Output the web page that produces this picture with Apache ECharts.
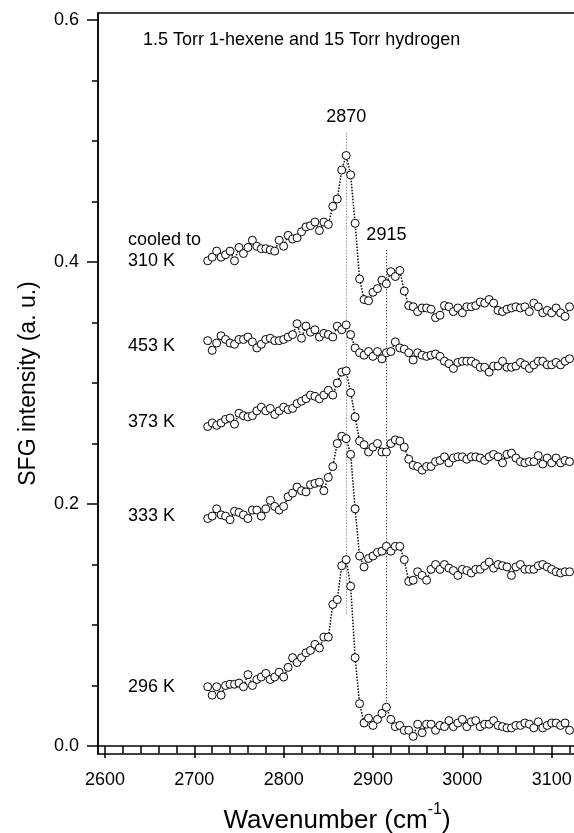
<!DOCTYPE html>
<html>
<head>
<meta charset="utf-8">
<script src="https://cdn.jsdelivr.net/npm/echarts@6/dist/echarts.min.js"></script>
<style>
  html, body { margin: 0; padding: 0; background: #fff; }
  #chart { width: 574px; height: 833px; }
</style>
</head>
<body>
<div id="chart"></div>
<script>
// wavenumber grid (cm-1)
var wavenumber = [2715, 2720, 2725, 2730, 2735, 2740, 2745, 2750, 2755, 2760,
    2765, 2770, 2775, 2780, 2785, 2790, 2795, 2800, 2805, 2810,
    2815, 2820, 2825, 2830, 2835, 2840, 2845, 2850, 2855, 2860,
    2865, 2870, 2875, 2880, 2885, 2890, 2895, 2900, 2905, 2910,
    2915, 2920, 2925, 2930, 2935, 2940, 2945, 2950, 2955, 2960,
    2965, 2970, 2975, 2980, 2985, 2990, 2995, 3000, 3005, 3010,
    3015, 3020, 3025, 3030, 3035, 3040, 3045, 3050, 3055, 3060,
    3065, 3070, 3075, 3080, 3085, 3090, 3095, 3100, 3105, 3110,
    3115, 3120]

// SFG intensity of each spectrum (offset as in the figure)
var s310 = [0.401, 0.404, 0.409, 0.404, 0.406, 0.409, 0.401, 0.412, 0.407, 0.412,
    0.418, 0.413, 0.411, 0.411, 0.410, 0.409, 0.418, 0.413, 0.422, 0.419,
    0.420, 0.425, 0.429, 0.430, 0.433, 0.426, 0.433, 0.431, 0.446, 0.452,
    0.476, 0.488, 0.472, 0.432, 0.386, 0.369, 0.368, 0.375, 0.378, 0.385,
    0.382, 0.392, 0.388, 0.393, 0.376, 0.364, 0.363, 0.359, 0.362, 0.362,
    0.361, 0.354, 0.356, 0.364, 0.363, 0.359, 0.362, 0.358, 0.363, 0.363,
    0.364, 0.367, 0.366, 0.369, 0.366, 0.360, 0.359, 0.361, 0.362, 0.363,
    0.362, 0.363, 0.359, 0.366, 0.363, 0.358, 0.360, 0.358, 0.362, 0.358,
    0.355, 0.363]
var s453 = [0.335, 0.327, 0.333, 0.339, 0.336, 0.333, 0.332, 0.336, 0.336, 0.338,
    0.334, 0.329, 0.332, 0.336, 0.337, 0.335, 0.335, 0.336, 0.338, 0.340,
    0.349, 0.337, 0.347, 0.342, 0.344, 0.338, 0.341, 0.340, 0.338, 0.347,
    0.344, 0.348, 0.340, 0.329, 0.325, 0.323, 0.326, 0.322, 0.326, 0.320,
    0.325, 0.326, 0.334, 0.329, 0.328, 0.325, 0.319, 0.325, 0.323, 0.322,
    0.323, 0.324, 0.322, 0.318, 0.316, 0.312, 0.317, 0.318, 0.318, 0.318,
    0.316, 0.313, 0.313, 0.309, 0.314, 0.314, 0.318, 0.313, 0.313, 0.314,
    0.317, 0.315, 0.312, 0.315, 0.318, 0.318, 0.315, 0.315, 0.317, 0.315,
    0.318, 0.320]
var s373 = [0.264, 0.267, 0.265, 0.267, 0.270, 0.271, 0.266, 0.275, 0.273, 0.272,
    0.273, 0.277, 0.280, 0.277, 0.279, 0.274, 0.277, 0.280, 0.278, 0.279,
    0.283, 0.285, 0.287, 0.290, 0.289, 0.287, 0.290, 0.294, 0.290, 0.300,
    0.309, 0.310, 0.292, 0.272, 0.252, 0.249, 0.243, 0.247, 0.250, 0.243,
    0.243, 0.250, 0.253, 0.252, 0.247, 0.237, 0.232, 0.231, 0.228, 0.231,
    0.231, 0.235, 0.236, 0.239, 0.234, 0.238, 0.239, 0.239, 0.237, 0.239,
    0.239, 0.238, 0.236, 0.239, 0.241, 0.239, 0.234, 0.241, 0.242, 0.238,
    0.235, 0.234, 0.235, 0.235, 0.240, 0.233, 0.238, 0.234, 0.238, 0.234,
    0.236, 0.235]
var s333 = [0.188, 0.190, 0.196, 0.191, 0.190, 0.187, 0.194, 0.193, 0.191, 0.188,
    0.195, 0.195, 0.190, 0.196, 0.203, 0.198, 0.195, 0.198, 0.206, 0.209,
    0.214, 0.211, 0.210, 0.216, 0.217, 0.218, 0.211, 0.222, 0.231, 0.250,
    0.256, 0.254, 0.241, 0.196, 0.157, 0.148, 0.155, 0.157, 0.160, 0.161,
    0.165, 0.161, 0.165, 0.165, 0.154, 0.136, 0.137, 0.144, 0.141, 0.137,
    0.146, 0.150, 0.146, 0.150, 0.147, 0.145, 0.141, 0.146, 0.145, 0.143,
    0.146, 0.146, 0.149, 0.152, 0.147, 0.150, 0.149, 0.148, 0.141, 0.148,
    0.150, 0.146, 0.146, 0.146, 0.149, 0.150, 0.148, 0.146, 0.144, 0.143,
    0.144, 0.144]
var s296 = [0.049, 0.042, 0.049, 0.042, 0.050, 0.051, 0.051, 0.052, 0.049, 0.059,
    0.050, 0.055, 0.057, 0.060, 0.055, 0.057, 0.061, 0.057, 0.065, 0.073,
    0.069, 0.073, 0.077, 0.079, 0.084, 0.081, 0.090, 0.090, 0.117, 0.121,
    0.149, 0.154, 0.132, 0.073, 0.035, 0.019, 0.023, 0.017, 0.022, 0.027,
    0.032, 0.022, 0.016, 0.017, 0.013, 0.013, 0.008, 0.018, 0.011, 0.018,
    0.018, 0.013, 0.017, 0.016, 0.021, 0.016, 0.019, 0.022, 0.016, 0.020,
    0.021, 0.016, 0.018, 0.018, 0.021, 0.017, 0.016, 0.015, 0.015, 0.017,
    0.017, 0.019, 0.018, 0.015, 0.020, 0.015, 0.017, 0.019, 0.019, 0.017,
    0.019, 0.013]

// axis ticks
var xMajor = [2600, 2700, 2800, 2900, 3000, 3100]
var xMinor = [2620, 2640, 2660, 2680, 2720, 2740, 2760, 2780, 2820, 2840, 2860, 2880,
    2920, 2940, 2960, 2980, 3020, 3040, 3060, 3080, 3120]
var yMajor = [0, 0.2, 0.4, 0.6]
var yMinor = [0.05, 0.1, 0.15, 0.25, 0.3, 0.35, 0.45, 0.5, 0.55]

// peak positions marked with dotted lines: [x, top, bottom]
var peak2870 = [2870, 0.507, 0.108]
var peak2915 = [2915, 0.41, 0.033]

var FONT = 'Liberation Sans, Arial, sans-serif'

function spectrum(name, vals) {
    return {
        name: name,
        type: 'line',
        xAxisIndex: 0,
        yAxisIndex: 0,
        data: wavenumber.map(function (x, i) { return [x, vals[i]] }),
        symbol: 'circle',
        symbolSize: 8,
        showAllSymbol: true,
        itemStyle: { color: '#fff', borderColor: '#000', borderWidth: 1 },
        lineStyle: { color: '#000', width: 1.5, type: [1.5, 1.5] },
        z: 3
    }
}

function peakLine(p, color) {
    return [{
        coord: [p[0], p[1]],
        lineStyle: { color: color, width: 1, type: [1.5, 1.5] },
        label: {
            show: true, position: 'start', distance: 6, formatter: String(p[0]),
            color: '#000', fontSize: 18, fontFamily: FONT
        }
    }, { coord: [p[0], p[2]] }]
}

var chart = echarts.init(document.getElementById('chart'))

var series = [
    spectrum('310 K', s310),
    spectrum('453 K', s453),
    spectrum('373 K', s373),
    spectrum('333 K', s333),
    spectrum('296 K', s296)
]
series[4].markLine = {
    silent: true,
    symbol: 'none',
    animation: false,
    z: 1,
    data: [peakLine(peak2870, '#999'), peakLine(peak2915, '#555')]
}

function sideLabel(text, left, top) {
    return {
        type: 'text', left: left, top: top,
        style: { text: text, fill: '#000', font: '18px ' + FONT }
    }
}

var option = {
    animation: false,
    grid: {
        left: 98, top: 13, width: 490, height: 741,
        show: true, borderColor: '#000', borderWidth: 1.5,
        containLabel: false,
        outerBoundsMode: 'none'
    },
    xAxis: [{
        type: 'value',
        min: 2592.2, max: 2592.2 + 490 / 0.8934,
        axisLine: { show: true, lineStyle: { color: '#000', width: 1.5 } },
        axisTick: { show: true, customValues: xMajor, length: 12, lineStyle: { color: '#000', width: 1.5 } },
        axisLabel: {
            customValues: xMajor, margin: 17, color: '#000', fontSize: 18, fontFamily: FONT,
            formatter: function (v) { return String(v) }
        },
        splitLine: { show: false },
        name: '{a|Wavenumber (cm}{s|-1}{a|)}',
        nameLocation: 'middle',
        nameGap: 48,
        nameTextStyle: {
            padding: [0, 12, 0, 0],
            rich: {
                a: { fontSize: 26, fontFamily: FONT, color: '#000' },
                s: { fontSize: 16, fontFamily: FONT, color: '#000', padding: [0, 0, 22, 0] }
            }
        }
    }, {
        type: 'value', position: 'bottom',
        min: 2592.2, max: 2592.2 + 490 / 0.8934,
        axisLine: { show: false },
        axisTick: { show: true, customValues: xMinor, length: 7, lineStyle: { color: '#000', width: 1.5 } },
        axisLabel: { show: false },
        splitLine: { show: false }
    }],
    yAxis: [{
        type: 'value', position: 'left',
        min: -8 / 1210, max: 0.6 + 7 / 1210,
        axisLine: { show: true, lineStyle: { color: '#000', width: 1.5 } },
        axisTick: { show: true, customValues: yMajor, length: 11, lineStyle: { color: '#000', width: 1.5 } },
        axisLabel: {
            customValues: yMajor, margin: 19, color: '#000', fontSize: 18, fontFamily: FONT,
            formatter: function (v) { return v.toFixed(1) }
        },
        splitLine: { show: false },
        name: 'SFG intensity (a. u.)',
        nameLocation: 'middle',
        nameGap: 58,
        nameTextStyle: { fontSize: 23, fontFamily: FONT, color: '#000' }
    }, {
        type: 'value', position: 'left', offset: 0,
        min: -8 / 1210, max: 0.6 + 7 / 1210,
        axisLine: { show: false },
        axisTick: { show: true, customValues: yMinor, length: 6, lineStyle: { color: '#000', width: 1.5 } },
        axisLabel: { show: false },
        splitLine: { show: false }
    }],
    graphic: [
        sideLabel('1.5 Torr 1-hexene and 15 Torr hydrogen', 143, 31),
        sideLabel('cooled to', 128, 231),
        sideLabel('310 K', 128, 252),
        sideLabel('453 K', 128, 337),
        sideLabel('373 K', 128, 413),
        sideLabel('333 K', 128, 507),
        sideLabel('296 K', 128, 678)
    ],
    series: series
}

chart.setOption(option)
</script>
</body>
</html>
